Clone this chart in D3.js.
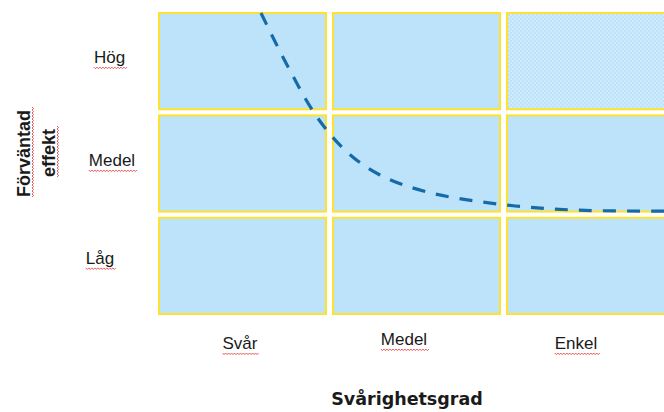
<!DOCTYPE html>
<html><head><meta charset="utf-8">
<script src="https://cdn.jsdelivr.net/npm/d3@7"></script>
<style>body{margin:0;background:#fff}svg{display:block}text{font-family:"Liberation Sans",Arial,sans-serif;fill:#1a1a1a}</style>
</head><body><svg id="c" width="664" height="412"></svg>
<script>
const xCategories = ["Svår", "Medel", "Enkel"];
const yCategories = ["Hög", "Medel", "Låg"];
const xTitle = "Svårighetsgrad";
const yTitle = ["Förväntad", "effekt"];
const patternedCells = [["Enkel", "Hög"]];
// curve points in grid units (x: 0..3 columns, y: 0..3 rows from top)
const curveX = [0.586, 0.736, 0.908, 1.080, 1.270, 1.540, 1.943, 2.379, 3.0];
const curveY = [0.000, 0.508, 1.016, 1.357, 1.582, 1.748, 1.865, 1.924, 1.934];

const svg = d3.select("#c");
const x = d3.scaleBand().domain(xCategories).range([159, 674]).paddingInner(0.04).paddingOuter(0);
const y = d3.scaleBand().domain(yCategories).range([13, 314]).paddingInner(0.06).paddingOuter(0);
const xc = d3.scaleLinear().domain([0, 3]).range([159, 159 + 3 * x.step()]);
const yc = d3.scaleLinear().domain([0, 3]).range([13, 13 + 3 * y.step()]);

const defs = svg.append("defs");
const pat = defs.append("pattern").attr("id","dots").attr("patternUnits","userSpaceOnUse").attr("width",4).attr("height",4);
pat.append("rect").attr("width",4).attr("height",4).attr("fill","#bde3fb");
pat.append("rect").attr("x",0.5).attr("y",0.5).attr("width",1.2).attr("height",1.2).attr("fill","#eef8ff");
pat.append("rect").attr("x",2.5).attr("y",2.5).attr("width",1.2).attr("height",1.2).attr("fill","#eef8ff");

const cells = [];
yCategories.forEach(r => xCategories.forEach(c => cells.push({c, r})));
svg.append("g").selectAll("rect").data(cells).join("rect")
  .attr("x", d => x(d.c)).attr("y", d => y(d.r))
  .attr("width", x.bandwidth()).attr("height", y.bandwidth())
  .attr("fill", d => patternedCells.some(p => p[0]===d.c && p[1]===d.r) ? "url(#dots)" : "#bde3fb")
  .attr("stroke", "#ffe22e").attr("stroke-width", 2);

const pts = curveX.map((v,i) => [v, curveY[i]]);
svg.append("path").datum(pts)
  .attr("d", d3.line().x(d => xc(d[0])).y(d => yc(d[1])).curve(d3.curveCatmullRom.alpha(0.5)))
  .attr("fill","none").attr("stroke","#156aa8").attr("stroke-width",3.2).attr("stroke-dasharray","13,11");

function wavyD(x0, x1) {
  let d = `M${x0},0`;
  for (let xx = x0; xx < x1; xx += 3) d += ` L${xx+1.5},1.6 L${xx+3},0`;
  return d;
}
function label(txt, cx, by, size, weight, family) {
  const t = svg.append("text").attr("x", cx).attr("y", by).attr("text-anchor","middle")
    .attr("font-size", size).attr("font-weight", weight).text(txt);
  if (family) t.style("font-family", family);
  return t;
}
function underline(t, cx, by) {
  const w = t.node().getComputedTextLength();
  svg.append("path").attr("transform", `translate(0,${by + 4})`).attr("d", wavyD(cx - w/2, cx + w/2))
    .attr("fill","none").attr("stroke","#e8474a").attr("stroke-width",0.9);
}
// row labels
const rowLabelX = [109.5, 112, 100];
const rowLabelDy = [0, 0.5, -4];
yCategories.forEach((r, i) => {
  const by = y(r) + y.bandwidth()/2 + 2 + rowLabelDy[i];
  const t = label(r, rowLabelX[i], by, 17, "normal");
  underline(t, rowLabelX[i], by);
});
// column labels
const colLabelX = [240, 404, 576];
const colLabelY = [349, 345, 349];
xCategories.forEach((c, i) => {
  const t = label(c, colLabelX[i], colLabelY[i], 17, "normal");
  underline(t, colLabelX[i], colLabelY[i]);
});
label(xTitle, 407, 405, 17.5, "bold", "'DejaVu Sans', Verdana, sans-serif");
// y title
const yt = svg.append("g");
yTitle.forEach((s, i) => {
  const bx = [30, 55][i], cy = [153.5, 153][i];
  const t = yt.append("text").attr("transform", `translate(${bx},${cy}) rotate(-90)`)
    .attr("text-anchor","middle").attr("font-size",18).attr("font-weight","bold").text(s);
  const w = t.node().getComputedTextLength();
  yt.append("path").attr("transform", `translate(${bx+2},${cy}) rotate(-90)`)
    .attr("d", wavyD(-w/2, w/2))
    .attr("fill","none").attr("stroke","#e8474a").attr("stroke-width",0.9);
});
</script></body></html>
